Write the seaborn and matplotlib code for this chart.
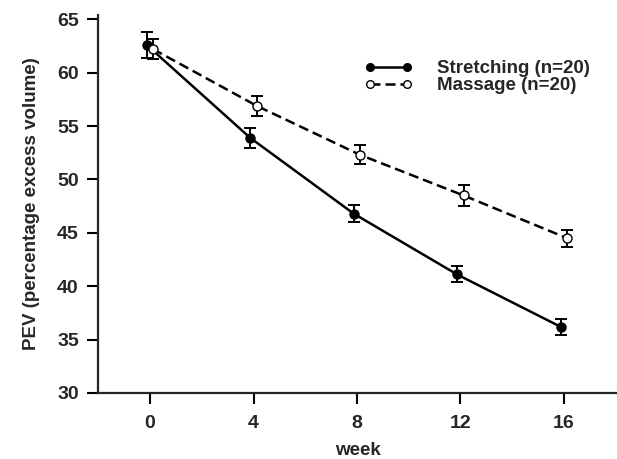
import pandas as pd
import matplotlib.pyplot as plt
import seaborn as sns

# data (mean +/- SE)
weeks = [0, 4, 8, 12, 16]
stretch_mean = [62.6, 53.9, 46.8, 41.1, 36.2]
stretch_err = [1.2, 0.95, 0.8, 0.75, 0.75]
massage_mean = [62.2, 56.9, 52.3, 48.5, 44.5]
massage_err = [0.95, 0.95, 0.9, 0.95, 0.8]
labels = ["Stretching (n=20)", "Massage (n=20)"]

sns.set_style("ticks")
plt.rcParams['font.family'] = ['Liberation Sans', 'DejaVu Sans']
plt.rcParams['font.weight'] = 'bold'
plt.rcParams['axes.labelweight'] = 'bold'

# small horizontal dodge so the two groups do not overlap
dodge = {labels[0]: -0.13, labels[1]: 0.12}

df = pd.DataFrame({
    "week": weeks + weeks,
    "pev": stretch_mean + massage_mean,
    "err": stretch_err + massage_err,
    "group": [labels[0]] * 5 + [labels[1]] * 5,
})
df["x"] = df["week"] + df["group"].map(dodge)

fig = plt.figure(figsize=(6.17, 4.59), dpi=100)
ax = fig.add_axes([0.1593, 0.1438, 0.8407, 0.8235])

styles = {
    labels[0]: dict(ls="-", mfc="black"),
    labels[1]: dict(ls="--", mfc="white"),
}

for g, sub in df.groupby("group", sort=False):
    st = styles[g]
    ax.errorbar(sub["x"], sub["pev"], yerr=sub["err"], fmt="none",
                ecolor="black", elinewidth=1.4, capsize=4.5, capthick=1.4,
                zorder=2)
    sns.lineplot(data=sub, x="x", y="pev", ax=ax, color="black",
                 linewidth=1.8, marker="o", markersize=6.5,
                 markerfacecolor=st["mfc"], markeredgecolor="black",
                 markeredgewidth=1.0, label=g, zorder=3, errorbar=None)
    ax.lines[-1].set_linestyle(st["ls"])
    if st["ls"] == "--":
        ax.lines[-1].set_dashes((4, 2))

ax.set_xlim(-2, 18.05)
ax.set_ylim(30, 65.4)
ax.set_xticks(weeks)
ax.set_yticks(range(30, 66, 5))
ax.set_xlabel("week", fontsize=13.5, labelpad=7)
ax.set_ylabel("PEV (percentage excess volume)", fontsize=13.5, labelpad=12)
ax.tick_params(axis="both", labelsize=14, width=1.5, length=8, color="black")
ax.tick_params(axis="x", pad=8)
ax.tick_params(axis="y", pad=6)
for lab in ax.get_xticklabels() + ax.get_yticklabels():
    lab.set_fontweight("bold")
for s in ["left", "bottom"]:
    ax.spines[s].set_linewidth(1.6)
sns.despine(ax=ax)

leg = ax.legend(loc="upper left", bbox_to_anchor=(0.48, 0.925),
                frameon=False, numpoints=2, handlelength=2.6,
                handletextpad=1.3, labelspacing=0.0,
                prop={"size": 13.5, "weight": "bold"})
for h in leg.legend_handles:
    h.set_markersize(5.5)

fig.savefig("out.png", dpi=100)
